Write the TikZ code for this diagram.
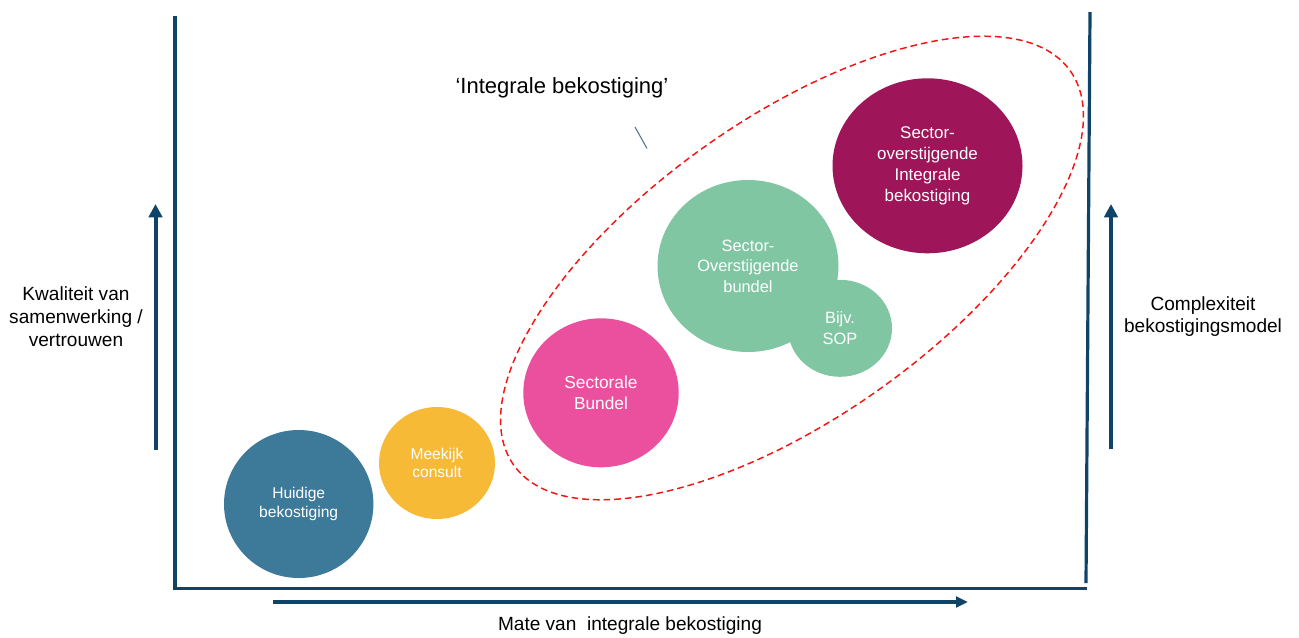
\documentclass[tikz,border=0pt]{standalone}
\usepackage{fontspec}
\setmainfont{Liberation Sans}
\usetikzlibrary{arrows.meta,shapes.geometric}
\definecolor{axisblue}{RGB}{15,68,104}
\definecolor{huidig}{RGB}{61,122,154}
\definecolor{meekijk}{RGB}{246,186,55}
\definecolor{sectoraal}{RGB}{234,80,158}
\definecolor{groen}{RGB}{129,198,162}
\definecolor{maroon}{RGB}{158,21,89}
\definecolor{dashred}{RGB}{245,20,20}
\definecolor{tickgray}{RGB}{80,115,145}
\begin{document}
\begin{tikzpicture}[x=0.75pt,y=-0.75pt,
  blob/.style={ellipse, inner sep=0pt, text=white, align=center},
  lbl/.style={align=center, text=black, font=\fontsize{14.3}{17}\selectfont},
  axisline/.style={draw=axisblue, line width=2.4pt},
  axisarrow/.style={draw=axisblue, line width=3pt, -{Triangle[length=10pt,width=10pt]}},
  baseline arrow/.style={draw=axisblue, line width=2.7pt, -{Triangle[length=9pt,width=8pt]}},
  groupline/.style={draw=dashred, line width=1.1pt, dash pattern=on 5pt off 3pt},
  tick/.style={draw=tickgray, line width=0.8pt}]
\useasboundingbox (0,0) rectangle (1299,637);

% axes frame
\coordinate (lt) at (175,16);
\coordinate (lb) at (175,588.5);
\coordinate (rb) at (1087,588.5);
\coordinate (rt) at (1090,12);
\coordinate (rl) at (1086,583);
\draw[axisline] (lt) -- (lb) -- (rb);
\draw[axisline] (rt) -- (rl);

% direction arrows
\coordinate (la0) at (155.5,450);
\coordinate (la1) at (155.5,204);
\coordinate (ra0) at (1111,449);
\coordinate (ra1) at (1111,204);
\coordinate (ba0) at (273,602);
\coordinate (ba1) at (968,602);
\draw[axisarrow] (la0) -- (la1);
\draw[axisarrow] (ra0) -- (ra1);
\draw[baseline arrow] (ba0) -- (ba1);

% axis labels
\node[lbl] (ylab) at (76,316.6) {Kwaliteit van\\samenwerking /\\vertrouwen};
\node[lbl] (zlab) at (1203,316.6) {Complexiteit\\bekostigingsmodel};
\node[lbl] (xlab) at (630,626) {Mate van \ integrale bekostiging};

% dashed grouping
\coordinate (gc) at (792,268);
\draw[groupline] (gc) ellipse [x radius=341, y radius=149.5, rotate=35.3];

\node[font=\fontsize{16.5}{19}\selectfont] (glab) at (562,87.5) {‘Integrale bekostiging’};
\coordinate (t0) at (635,127);
\coordinate (t1) at (647,148.5);
\draw[tick] (t0) -- (t1);

% circles
\node[blob, fill=huidig, minimum width=149.4*0.75pt, minimum height=148*0.75pt,
      font=\fontsize{11.7}{14.2}\selectfont] (huidig) at (298.7,504) {Huidige\\bekostiging};
\node[blob, fill=meekijk, minimum width=116*0.75pt, minimum height=112*0.75pt,
      font=\fontsize{11.7}{13.7}\selectfont] (meekijk) at (437,463) {Meekijk\\consult};
\node[blob, fill=sectoraal, minimum width=155.4*0.75pt, minimum height=149*0.75pt,
      font=\fontsize{13}{15.75}\selectfont] (sectoraal) at (601,392.8) {Sectorale\\Bundel};
\node[blob, fill=groen, minimum width=181*0.75pt, minimum height=172*0.75pt] (sob) at (748,266) {};
\node[blob, fill=groen, minimum width=104*0.75pt, minimum height=97*0.75pt,
      font=\fontsize{12.3}{15.4}\selectfont] (sop) at (840,328.3) {Bijv.\\SOP};
\node[align=center, text=white, font=\fontsize{12.3}{15.4}\selectfont] (sobt) at (sob) {Sector-\\Overstijgende\\bundel};
\node[blob, fill=maroon, minimum width=190*0.75pt, minimum height=175*0.75pt,
      font=\fontsize{12.7}{15.75}\selectfont] (sib) at (927.5,165.8) {Sector-\\overstijgende\\Integrale\\bekostiging};
\end{tikzpicture}
\end{document}
